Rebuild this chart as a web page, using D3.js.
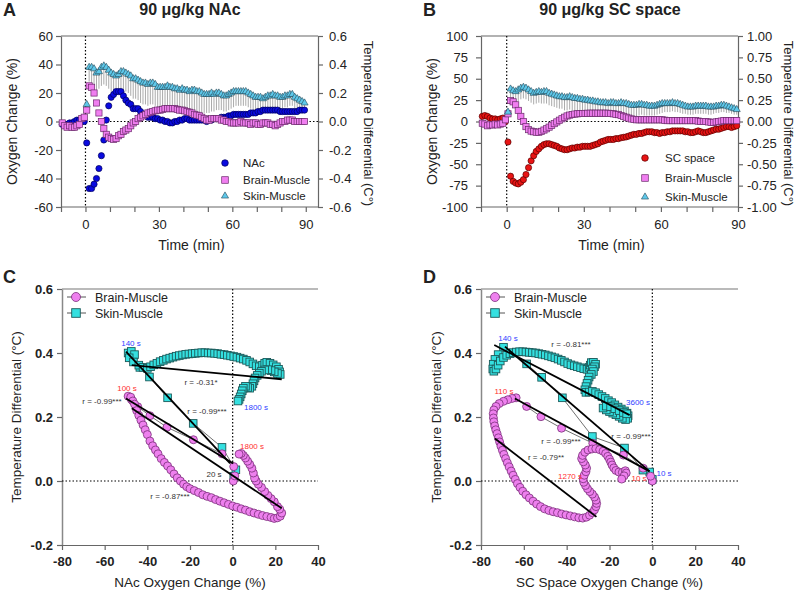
<!DOCTYPE html>
<html><head><meta charset="utf-8">
<script src="https://cdn.jsdelivr.net/npm/d3@7"></script>
<style>body{margin:0;background:#fff}svg text{font-family:"Liberation Sans",Arial,sans-serif}</style>
</head><body><script>
// ---------- DATA ----------
const timeMin = d3.range(-9.5, 90, 1); // sample times (min)
const nacO2 = [-2,-2,-2,-1,-1,0,1,1,0,0,
 -15,-47,-47,-44,-40,-33,-24,-13,1,11,
 17,19,21,21,21,18,15,13,12,9,
 9,9,7,5,4,3,3,3,2,2,
 1,1,0,0,-1,-1,0,0,1,1,
 2,2,1,1,1,1,1,1,1,0,
 1,1,2,2,2,3,3,3,4,4,
 5,5,5,5,5,5,5,6,6,6,
 7,7,8,8,8,8,8,8,8,7,
 7,7,7,7,7,7,7,8,8,8];
const brainA = [-0.01,-0.03,-0.04,-0.03,-0.04,-0.04,-0.03,-0.02,0.02,0.03,
 0.08,0.25,0.24,0.20,0.13,0.06,0.0,-0.05,-0.09,-0.11,
 -0.12,-0.125,-0.12,-0.10,-0.09,-0.07,-0.06,-0.05,-0.03,-0.01,
 0.0,0.02,0.03,0.04,0.05,0.06,0.065,0.07,0.075,0.08,
 0.08,0.085,0.09,0.09,0.09,0.09,0.09,0.085,0.08,0.08,
 0.075,0.07,0.065,0.06,0.05,0.045,0.04,0.03,0.02,0.01,
 0.01,0.02,0.02,0.02,0.02,0.01,0.01,0.0,0.0,-0.01,
 -0.01,-0.01,-0.01,0.0,-0.01,-0.01,-0.01,-0.02,-0.01,-0.01,
 -0.02,-0.02,-0.01,-0.01,-0.01,-0.02,-0.02,-0.03,-0.02,-0.01,
 0.0,0.0,0.01,0.01,0.01,0.0,0.0,0.0,0.0,0.0];
const skinA = [null,null,null,null,null,null,null,null,null,null,
 0.12,0.38,0.38,0.37,0.34,0.35,0.38,0.39,0.38,0.36,
 0.34,0.33,0.32,0.33,0.35,0.35,0.34,0.33,0.32,0.30,
 0.30,0.29,0.28,0.27,0.27,0.26,0.27,0.27,0.26,0.24,
 0.24,0.24,0.24,0.25,0.24,0.24,0.23,0.23,0.22,0.23,
 0.22,0.22,0.21,0.22,0.22,0.21,0.21,0.20,0.19,0.19,
 0.19,0.20,0.19,0.20,0.20,0.19,0.18,0.18,0.19,0.20,
 0.21,0.21,0.21,0.21,0.21,0.21,0.20,0.19,0.18,0.17,
 0.17,0.17,0.16,0.17,0.18,0.18,0.19,0.18,0.18,0.17,
 0.17,0.18,0.18,0.19,0.19,0.17,0.16,0.15,0.14,0.13];
const skinErrA = [null,null,null,null,null,null,null,null,null,null,
 0.03,0.10,0.12,0.12,0.12,0.12,0.13,0.13,0.13,0.13,
 0.13,0.13,0.12,0.12,0.13,0.13,0.13,0.13,0.14,0.14,
 0.14,0.14,0.15,0.15,0.15,0.15,0.15,0.15,0.15,0.14,
 0.14,0.14,0.14,0.15,0.15,0.15,0.16,0.16,0.15,0.15,
 0.15,0.15,0.15,0.15,0.15,0.14,0.14,0.14,0.13,0.13,
 0.13,0.13,0.12,0.12,0.12,0.11,0.11,0.11,0.11,0.11,
 0.11,0.10,0.10,0.10,0.10,0.10,0.10,0.10,0.10,0.09,
 0.09,0.09,0.09,0.09,0.09,0.09,0.09,0.09,0.09,0.09,
 0.08,0.08,0.08,0.08,0.08,0.08,0.07,0.07,0.07,0.06];
const scO2 = [6,7,6,4,3,3,2,3,4,0,
 -24,-64,-70,-72,-73,-71,-68,-62,-54,-46,
 -40,-35,-32,-29,-27,-26,-26,-27,-28,-29,
 -31,-32,-33,-33,-32,-31,-31,-30,-30,-29,
 -29,-29,-29,-28,-27,-26,-24,-23,-22,-21,
 -21,-21,-20,-20,-19,-18.5,-18,-17,-16,-15,
 -15,-14,-14,-13,-12,-12,-12,-13,-13,-14,
 -13,-13,-12,-12,-11,-11,-11,-11,-11,-12,
 -12,-13,-13,-12,-11,-12,-13,-13,-12,-11,
 -10,-9,-9,-8,-7,-6,-6,-7,-6,-5];
const brainB = [-0.02,-0.03,-0.05,-0.04,-0.04,-0.03,-0.04,-0.03,-0.02,0.02,
 0.09,0.245,0.23,0.195,0.13,0.06,0.0,-0.06,-0.095,-0.112,
 -0.12,-0.125,-0.125,-0.115,-0.10,-0.085,-0.066,-0.045,-0.025,-0.005,
 0.015,0.032,0.05,0.065,0.075,0.082,0.087,0.09,0.093,0.094,
 0.095,0.096,0.097,0.097,0.097,0.097,0.097,0.097,0.097,0.096,
 0.094,0.09,0.085,0.08,0.07,0.06,0.05,0.04,0.03,0.025,
 0.02,0.02,0.02,0.02,0.02,0.02,0.02,0.02,0.02,0.02,
 0.02,0.015,0.01,0.01,0.01,0.01,0.01,0.01,0.01,0.01,
 0.01,0.01,0.01,0.01,0.005,0.0,0.0,0.0,-0.005,-0.01,
 -0.01,-0.005,0.0,0.005,0.01,0.01,0.01,0.01,0.01,0.01];
const skinB = [null,null,null,null,null,null,null,null,null,null,
 0.11,0.38,0.36,0.35,0.37,0.39,0.40,0.39,0.37,0.35,
 0.33,0.34,0.35,0.34,0.35,0.35,0.33,0.32,0.31,0.30,
 0.29,0.29,0.28,0.28,0.29,0.28,0.27,0.27,0.26,0.26,
 0.25,0.25,0.24,0.24,0.23,0.23,0.22,0.22,0.22,0.21,
 0.22,0.22,0.21,0.21,0.22,0.21,0.21,0.20,0.19,0.19,
 0.19,0.20,0.20,0.19,0.19,0.18,0.18,0.18,0.19,0.20,
 0.21,0.21,0.21,0.21,0.22,0.21,0.21,0.20,0.19,0.18,
 0.17,0.17,0.17,0.18,0.18,0.18,0.18,0.18,0.17,0.17,
 0.17,0.18,0.18,0.19,0.19,0.18,0.17,0.16,0.15,0.14];
const skinErrB = [null,null,null,null,null,null,null,null,null,null,
 0.03,0.11,0.12,0.12,0.13,0.13,0.13,0.13,0.13,0.13,
 0.13,0.13,0.13,0.13,0.14,0.14,0.14,0.14,0.14,0.14,
 0.14,0.14,0.15,0.15,0.15,0.15,0.15,0.15,0.15,0.14,
 0.14,0.14,0.14,0.15,0.15,0.15,0.15,0.15,0.15,0.15,
 0.15,0.15,0.15,0.14,0.14,0.14,0.14,0.14,0.13,0.13,
 0.13,0.13,0.12,0.12,0.12,0.11,0.11,0.11,0.11,0.11,
 0.11,0.10,0.10,0.10,0.10,0.10,0.10,0.10,0.10,0.09,
 0.09,0.09,0.09,0.09,0.09,0.09,0.09,0.09,0.09,0.09,
 0.08,0.08,0.08,0.08,0.08,0.08,0.07,0.07,0.07,0.06];

// Scatter C (x = NAc O2 %, y = temperature differential °C), time-ordered
const cBrainX = [0.3,1,0.5,-5,-18.4,-30.8,-38.8,-44.5,-47.5,-49,
 -47.8,-46.8,-46,-45,-44,-43,-42,-41,-40,-38.8,-37.5,-36.2,-35,-33.5,-32,-30.5,-29,-27.5,-26,-24.5,
 -23,-21.5,-20,-18,-16,-14,-12,-10,-8,-6,-4,-2,0,2,4,6,8,10,12,14,16,18,19.5,21,22.3,23,22,21,
 19.5,18,16.5,15,13.5,12,11,10.3,9.7,9,8,7,6,5,4,3];
const cBrainY = [0.0,0.016,0.045,0.085,0.129,0.168,0.204,0.232,0.255,0.265,
 0.262,0.25,0.24,0.22,0.205,0.19,0.175,0.16,0.145,0.125,0.11,0.097,0.085,0.07,0.058,0.047,0.035,0.022,0.01,0.0,
 -0.01,-0.018,-0.024,-0.03,-0.036,-0.043,-0.048,-0.052,-0.058,-0.063,-0.068,-0.073,-0.078,-0.082,-0.087,-0.091,-0.096,-0.1,-0.104,-0.108,-0.111,-0.114,-0.117,-0.115,-0.11,-0.1,-0.088,-0.08,
 -0.065,-0.055,-0.045,-0.033,-0.02,-0.01,0.0,0.01,0.025,0.04,0.052,0.062,0.072,0.08,0.086,0.084];
const cSkinX = [0.5,1.5,-5,-18.5,-30.5,-39,-43.5,-47,-49,
 -47.5,-46,-48.5,-46.5,-44,-42,-40,-38.5,-37,-35.5,-34,-32.5,-31,-29.5,-28,-26.5,-25,-23.5,-22,-20.5,-19,-17.5,-16,-14.5,-13,-11.5,-10,-8.5,-7,-5.5,-4,-2.5,-1,0.5,2,3.5,5,6.5,8,9.5,11,12.5,14,15,16,17.5,19,20.5,21.5,22,22.3,
 21,19.5,18,16.5,15,13.5,12.5,11.5,10.5,10,9.5,9,8,7,6,5,4.5,4,3.5,3,2.5];
const cSkinY = [0.015,0.035,0.105,0.18,0.26,0.325,0.355,0.385,0.4,
 0.405,0.395,0.385,0.372,0.362,0.355,0.352,0.357,0.363,0.368,0.373,0.377,0.381,0.384,0.387,0.39,0.392,0.394,0.396,0.397,0.398,0.399,0.4,0.401,0.401,0.4,0.4,0.399,0.398,0.396,0.395,0.393,0.391,0.389,0.387,0.384,0.381,0.377,0.372,0.366,0.36,0.357,0.362,0.368,0.371,0.368,0.363,0.357,0.349,0.341,0.333,
 0.336,0.341,0.345,0.348,0.347,0.343,0.337,0.33,0.322,0.313,0.304,0.296,0.29,0.292,0.296,0.29,0.282,0.272,0.263,0.255,0.25];
// Scatter D (x = SC space O2 %)
const dBrainX = [0,-0.8,-4.3,-13.5,-27.8,-42.4,-52,-58.7,-63.6,
 -65.5,-67.5,-69.5,-71.5,-73,-74,-74.3,-74.2,-74,-73.6,-73.1,-72.5,-71.9,-71.3,-70.7,-70,-69.3,-68.5,-67.7,-66.8,-65.9,-65,-64,-63,-61.8,-60.5,-59,-57.4,-55.7,-54,-52.2,-50.3,-48.3,-46.3,-44.3,-42.3,-40.3,-38.3,-36.3,-34.3,-32.5,
 -30.8,-29.3,-28,-27,-26.3,-26,-26.3,-27,-28,-29.2,-30.3,-31.2,-32,-32.3,-31.8,-31,-30.7,-31.3,-32.2,-33,-32.6,-31.5,-30,-28.2,-26.4,-24.6,-23,-21.8,-20.8,-20,-19.4,-18.8,-18,-17,-15.6,-14,-12.6,-12.2,-13.2,-14.3];
const dBrainY = [0.0,0.015,0.04,0.081,0.118,0.165,0.201,0.233,0.26,
 0.258,0.254,0.249,0.242,0.233,0.222,0.21,0.197,0.185,0.172,0.16,0.148,0.135,0.122,0.109,0.096,0.083,0.07,0.057,0.044,0.031,0.018,0.005,-0.008,-0.02,-0.032,-0.043,-0.053,-0.063,-0.072,-0.08,-0.087,-0.092,-0.096,-0.099,-0.103,-0.106,-0.109,-0.112,-0.115,-0.116,
 -0.113,-0.107,-0.099,-0.09,-0.08,-0.07,-0.06,-0.05,-0.041,-0.033,-0.024,-0.014,-0.004,0.007,0.018,0.029,0.04,0.05,0.06,0.07,0.08,0.09,0.097,0.1,0.101,0.098,0.093,0.086,0.077,0.068,0.059,0.05,0.041,0.033,0.028,0.027,0.032,0.025,0.016,0.006];
const dSkinX = [0,-1.2,-4.4,-13,-28,-42,-51.7,-58.7,-65,-69.5,
 -72,-73.5,-74.3,-74.5,-74,-73,-72,-71,-69.5,-68,-66.5,-65,-63.5,-62,-60.5,-59,-57.5,-56,-54.5,-53,-51.5,-50,-48.5,-47,-45.5,-44,-42.5,-41,-39.5,-38,-36.5,-35,-33.5,-32,-30.5,-29.5,-29,-28.5,-27.5,-26.5,-27,-28,-27.5,-28.5,-29.5,-30,-30.5,-31,-31.5,-31,
 -29.5,-28,-26.5,-25,-23.5,-22,-20.5,-19,-17.5,-16,-14.5,-13,-11.8,-11.3,-11.5,-12.5,-14,-15.5,-17,-18.5,-20,-21.5,-23,-21.5,-19.5,-17.5,-15.5,-13.5,-12];
const dSkinY = [0.005,0.028,0.034,0.103,0.139,0.26,0.324,0.366,0.4,0.418,
 0.395,0.38,0.365,0.35,0.343,0.35,0.362,0.375,0.386,0.393,0.398,0.401,0.403,0.404,0.404,0.403,0.402,0.401,0.4,0.398,0.396,0.394,0.391,0.388,0.385,0.381,0.377,0.372,0.367,0.363,0.36,0.357,0.354,0.351,0.349,0.355,0.362,0.37,0.371,0.365,0.357,0.35,0.342,0.333,0.325,0.315,0.305,0.295,0.285,0.277,
 0.278,0.28,0.276,0.27,0.264,0.258,0.251,0.245,0.238,0.231,0.225,0.219,0.212,0.204,0.196,0.192,0.196,0.202,0.207,0.212,0.217,0.222,0.228,0.234,0.232,0.226,0.22,0.214,0.21];
// regression line endpoints [x1,y1,x2,y2]
const cFits = [[-50,0.404,-1.2,0.055],[-47.3,0.362,23,0.318],[-50,0.258,0.3,0.055],[-47.3,0.227,23,-0.085]];
const dFits = [[-73.8,0.425,-10.6,0.206],[-68.8,0.42,-1.3,0.03],[-64.2,0.258,-1.3,0.03],[-73.5,0.133,-26.1,-0.112]];
const cNotes = [["140 s",131,343,"#3040ff"],["r = -0.31*",201,382,"#333"],["100 s",127,388,"#ff3030"],["r = -0.99***",102,401,"#333"],
 ["1800 s",256,407,"#3040ff"],["r = -0.99***",207,411,"#333"],["1800 s",252,446,"#ff3030"],["20 s",214,474,"#333"],["r = -0.87***",170,496,"#333"]];
const dNotes = [["140 s",508,338,"#3040ff"],["r = -0.81***",571,344,"#333"],["110 s",504,391,"#ff3030"],["3600 s",638,402,"#3040ff"],
 ["r = -0.99***",631,436,"#333"],["r = -0.99***",561,441,"#333"],["r = -0.79**",546,457,"#333"],["1270 s",570,476,"#ff3030"],["10 s",639,478,"#ff3030"],["10 s",664,473,"#3040ff"]];
const timeTicks = [-10,0,10,20,30,40,50,60,70,80,90];
const timeLabels = [0,30,60,90];

// ---------- DRAW ----------
const svg = d3.select("body").append("svg").attr("width",800).attr("height",590);
const FONT = '"Liberation Sans",Arial,sans-serif';
function styleAxis(g, fs, bold){
  g.attr("font-family",null).attr("font-size",null);
  g.select(".domain").attr("stroke","#666").attr("stroke-width",1.2);
  g.selectAll(".tick line").attr("stroke","#666").attr("stroke-width",1.2);
  g.selectAll(".tick text").attr("fill","#222").style("font-size",fs+"px")
   .style("font-weight",bold?"bold":"normal").style("font-family",FONT);
}
function txt(x,y,s,opt){
  const t = svg.append("text").attr("x",x).attr("y",y).text(s)
   .style("font-size",(opt.fs||12)+"px").style("font-weight",opt.bold?"bold":"normal")
   .attr("fill",opt.fill||"#222").attr("text-anchor",opt.anchor||"start");
  if(opt.rot) t.attr("transform",`rotate(${opt.rot},${x},${y})`);
  return t;
}
const NAC = {fill:"#0a0ae0",stroke:"#00005a"}, SCS={fill:"#e81414",stroke:"#5a0000"};
const BR = {fill:"#f07ef0",stroke:"#6a2a6a"}, SK = {fill:"#5ec8ea",stroke:"#234656"};

function tsPanel(o){
  const x = d3.scaleLinear().domain(o.xDom).range([o.x0,o.x1]);
  const yL = d3.scaleLinear().domain(o.yLDom).range([o.y1,o.y0]);
  const yR = d3.scaleLinear().domain(o.yRDom).range([o.y1,o.y0]);
  svg.append("line").attr("x1",o.x0).attr("x2",o.x1).attr("y1",o.y0).attr("y2",o.y0).attr("stroke","#666").attr("stroke-width",1.2);
  const gL = svg.append("g").attr("transform",`translate(${o.x0},0)`)
    .call(d3.axisLeft(yL).tickValues(o.yLTicks).tickSize(5).tickPadding(o.padL).tickSizeOuter(0).tickFormat(d=>String(d)));
  styleAxis(gL,13,false);
  const gR = svg.append("g").attr("transform",`translate(${o.x1},0)`)
    .call(d3.axisRight(yR).tickValues(o.yRTicks).tickSize(5).tickPadding(o.padR).tickSizeOuter(0).tickFormat(d=>d.toFixed(o.dec)));
  styleAxis(gR,13,false);
  const gB = svg.append("g").attr("transform",`translate(0,${o.y1})`)
    .call(d3.axisBottom(x).tickValues(timeTicks).tickSize(5).tickPadding(8).tickSizeOuter(0).tickFormat(d=>timeLabels.includes(d)?String(d):""));
  styleAxis(gB,13,false);
  gB.select(".domain").attr("d",`M${o.x0},0H${o.x1}`);
  svg.append("line").attr("x1",x(0)).attr("x2",x(0)).attr("y1",o.y0).attr("y2",o.y1).attr("stroke","#000").attr("stroke-width",1.2).attr("stroke-dasharray","1.5,2");
  svg.append("line").attr("x1",x(0)).attr("x2",o.x1).attr("y1",yL(0)).attr("y2",yL(0)).attr("stroke","#000").attr("stroke-width",1.2).attr("stroke-dasharray","1.5,2");
  const idx = d3.range(timeMin.length);
  svg.append("g").selectAll("line").data(idx.filter(i=>o.skin[i]!=null)).join("line")
    .attr("x1",i=>x(timeMin[i])).attr("x2",i=>x(timeMin[i]))
    .attr("y1",i=>yR(o.skin[i])).attr("y2",i=>yR(o.skin[i]-o.skinErr[i]))
    .attr("stroke","#a0a0a0").attr("stroke-width",0.9);
  svg.append("g").selectAll("circle").data(idx).join("circle")
    .attr("cx",i=>x(timeMin[i])).attr("cy",i=>yL(o.o2[i])).attr("r",3.1)
    .attr("fill",o.o2c.fill).attr("stroke",o.o2c.stroke).attr("stroke-width",0.7);
  svg.append("g").selectAll("rect").data(idx).join("rect")
    .attr("x",i=>x(timeMin[i])-3.1).attr("y",i=>yR(o.brain[i])-3.1).attr("width",6.2).attr("height",6.2)
    .attr("fill",BR.fill).attr("stroke",BR.stroke).attr("stroke-width",0.7);
  const tri = d3.symbol(d3.symbolTriangle,22);
  svg.append("g").selectAll("path").data(idx.filter(i=>o.skin[i]!=null)).join("path")
    .attr("d",tri).attr("transform",i=>`translate(${x(timeMin[i])},${yR(o.skin[i])})`)
    .attr("fill",SK.fill).attr("stroke",SK.stroke).attr("stroke-width",0.6);
  const L = o.leg;
  svg.append("circle").attr("cx",L.mx).attr("cy",L.ys[0]).attr("r",3.3).attr("fill",o.o2c.fill).attr("stroke",o.o2c.stroke).attr("stroke-width",0.7);
  svg.append("rect").attr("x",L.mx-3.3).attr("y",L.ys[1]-3.3).attr("width",6.6).attr("height",6.6).attr("fill",BR.fill).attr("stroke",BR.stroke).attr("stroke-width",0.7);
  svg.append("path").attr("d",tri).attr("transform",`translate(${L.mx},${L.ys[2]})`).attr("fill",SK.fill).attr("stroke",SK.stroke).attr("stroke-width",0.6);
  [o.o2Name,"Brain-Muscle","Skin-Muscle"].forEach((s,k)=>txt(L.tx,L.ys[k]+4,s,{fs:11.5}));
  txt((o.x0+o.x1)/2+2,250,"Time (min)",{fs:14,anchor:"middle"});
  txt(o.ltx,(o.y0+o.y1)/2,"Oxygen Change (%)",{fs:14,anchor:"middle",rot:-90});
  txt(o.rtx,(o.y0+o.y1)/2+2,"Temperature Differential (C°)",{fs:13,anchor:"middle",rot:90});
  txt(o.titleX,15,o.title,{fs:16,bold:true,anchor:"middle"});
  txt(o.letterX,16,o.letter,{fs:18,bold:true});
}

tsPanel({x0:61,x1:318,y0:36,y1:207,xDom:[-10,95],yLDom:[-60,60],yRDom:[-0.6,0.6],
  yLTicks:[-60,-40,-20,0,20,40,60],yRTicks:[-0.6,-0.4,-0.2,0,0.2,0.4,0.6],dec:1,padL:3,padR:6,
  o2:nacO2,o2c:NAC,o2Name:"NAc",brain:brainA,skin:skinA,skinErr:skinErrA,
  leg:{mx:225,tx:243,ys:[163,180,196]},ltx:17,rtx:364,titleX:190,title:"90 μg/kg NAc",letterX:3,letter:"A"});
tsPanel({x0:481,x1:738,y0:36,y1:207,xDom:[-10,90],yLDom:[-100,100],yRDom:[-1,1],
  yLTicks:[-100,-75,-50,-25,0,25,50,75,100],yRTicks:[-1,-0.75,-0.5,-0.25,0,0.25,0.5,0.75,1],dec:2,padL:8,padR:4,
  o2:scO2,o2c:SCS,o2Name:"SC space",brain:brainB,skin:skinB,skinErr:skinErrB,
  leg:{mx:645,tx:665,ys:[158,178,197]},ltx:437,rtx:784,titleX:610,title:"90 μg/kg SC space",letterX:423,letter:"B"});

function scPanel(o){
  const x = d3.scaleLinear().domain([-80,40]).range([o.x0,o.x1]);
  const y = d3.scaleLinear().domain([-0.2,0.6]).range([545,289]);
  svg.append("line").attr("x1",o.x0).attr("x2",o.x1).attr("y1",289).attr("y2",289).attr("stroke","#777").attr("stroke-width",1.2);
  const gL = svg.append("g").attr("transform",`translate(${o.x0},0)`)
    .call(d3.axisLeft(y).tickValues([-0.2,0,0.2,0.4,0.6]).tickSize(5).tickPadding(4).tickSizeOuter(0).tickFormat(d=>d.toFixed(1)));
  styleAxis(gL,13,true);
  gL.select(".domain").attr("stroke","#888").attr("stroke-width",1.5);
  const gB = svg.append("g").attr("transform",`translate(0,545)`)
    .call(d3.axisBottom(x).tickValues([-80,-60,-40,-20,0,20,40]).tickSize(5).tickPadding(7).tickSizeOuter(0).tickFormat(d=>String(d)));
  styleAxis(gB,13,true);
  svg.append("line").attr("x1",x(0)).attr("x2",x(0)).attr("y1",289).attr("y2",545).attr("stroke","#000").attr("stroke-width",1.2).attr("stroke-dasharray","1.5,2");
  svg.append("line").attr("x1",o.x0).attr("x2",o.x1).attr("y1",y(0)).attr("y2",y(0)).attr("stroke","#000").attr("stroke-width",1.2).attr("stroke-dasharray","1.5,2");
  const line = d3.line().x(d=>x(d[0])).y(d=>y(d[1]));
  const sk = o.skX.map((v,i)=>[v,o.skY[i]]), br = o.brX.map((v,i)=>[v,o.brY[i]]);
  svg.append("path").attr("d",line(sk)).attr("fill","none").attr("stroke","#333").attr("stroke-width",0.7);
  svg.append("g").selectAll("rect").data(sk).join("rect")
    .attr("x",d=>x(d[0])-3.8).attr("y",d=>y(d[1])-3.8).attr("width",7.6).attr("height",7.6)
    .attr("fill","#34e0e0").attr("stroke","#1c5a5a").attr("stroke-width",0.9);
  svg.append("path").attr("d",line(br)).attr("fill","none").attr("stroke","#333").attr("stroke-width",0.7);
  svg.append("g").selectAll("circle").data(br).join("circle")
    .attr("cx",d=>x(d[0])).attr("cy",d=>y(d[1])).attr("r",4)
    .attr("fill","#ee80ee").attr("stroke","#7a307a").attr("stroke-width",0.8);
  svg.append("g").selectAll("line").data(o.fits).join("line")
    .attr("x1",d=>x(d[0])).attr("y1",d=>y(d[1])).attr("x2",d=>x(d[2])).attr("y2",d=>y(d[3]))
    .attr("stroke","#000").attr("stroke-width",1.8);
  o.notes.forEach(n=>txt(n[1],n[2]+3,n[0],{fs:8,fill:n[3],anchor:"middle"}));
  const lx=o.x0+14;
  svg.append("line").attr("x1",lx-9).attr("x2",lx+10).attr("y1",297).attr("y2",297).attr("stroke","#555").attr("stroke-width",1);
  svg.append("circle").attr("cx",lx).attr("cy",297).attr("r",4.5).attr("fill","#ee80ee").attr("stroke","#7a307a").attr("stroke-width",0.8);
  svg.append("line").attr("x1",lx-9).attr("x2",lx+10).attr("y1",313).attr("y2",313).attr("stroke","#555").attr("stroke-width",1);
  svg.append("rect").attr("x",lx-4.3).attr("y",313-4.3).attr("width",8.6).attr("height",8.6).attr("fill","#34e0e0").attr("stroke","#1c5a5a").attr("stroke-width",0.9);
  txt(lx+19,301.5,"Brain-Muscle",{fs:12.5});
  txt(lx+19,317.5,"Skin-Muscle",{fs:12.5});
  txt((o.x0+o.x1)/2,587,o.xTitle,{fs:13.5,anchor:"middle"});
  txt(o.ytx,417,"Temperature Differential (°C)",{fs:13.5,anchor:"middle",rot:-90});
  txt(o.letterX,283,o.letter,{fs:18,bold:true});
}
scPanel({x0:62,x1:318,skX:cSkinX,skY:cSkinY,brX:cBrainX,brY:cBrainY,fits:cFits,notes:cNotes,
  xTitle:"NAc Oxygen Change (%)",ytx:21,letterX:3,letter:"C"});
scPanel({x0:481,x1:738,skX:dSkinX,skY:dSkinY,brX:dBrainX,brY:dBrainY,fits:dFits,notes:dNotes,
  xTitle:"SC Space Oxygen Change (%)",ytx:441,letterX:423,letter:"D"});
</script></body></html>
